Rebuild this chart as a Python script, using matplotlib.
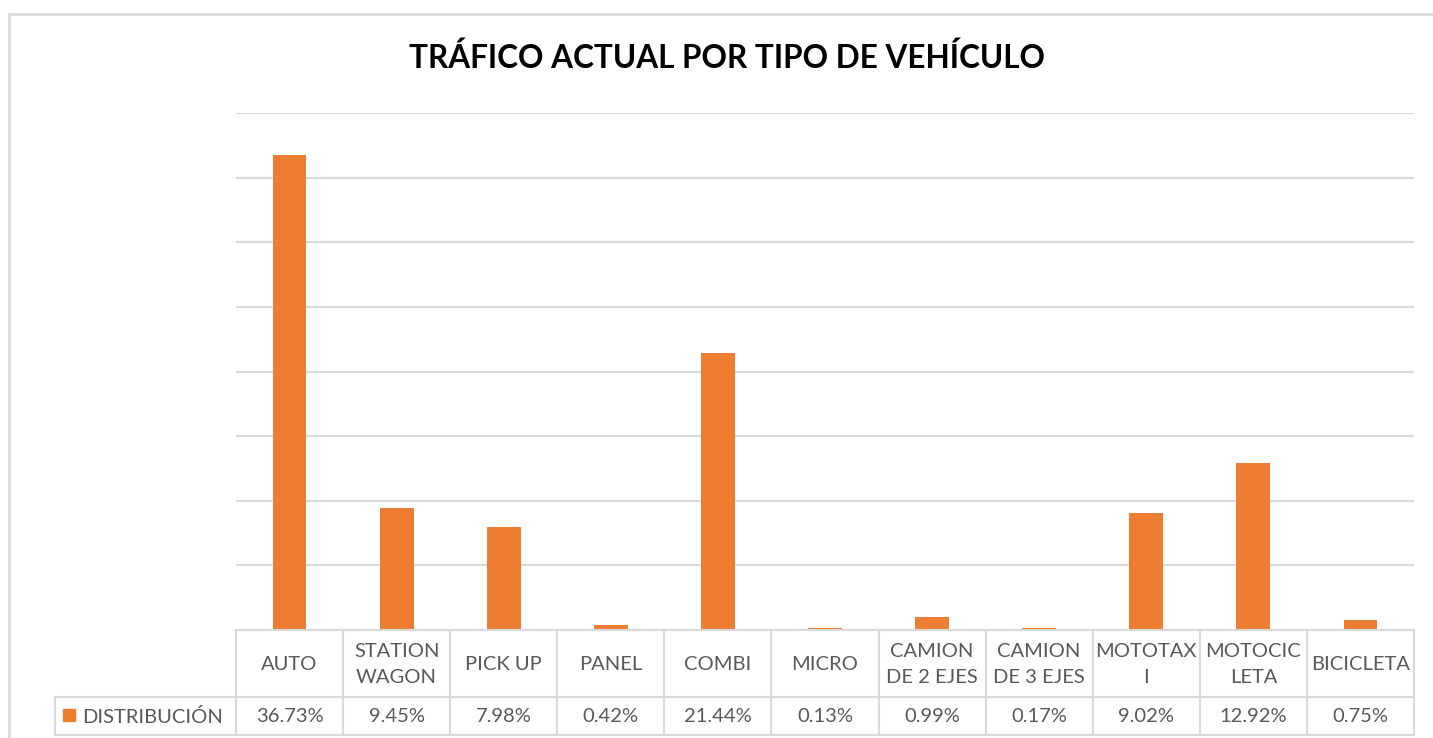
import matplotlib
matplotlib.use("Agg")
import matplotlib.pyplot as plt
from matplotlib.lines import Line2D
from matplotlib.patches import Rectangle

# datos de tráfico por tipo de vehículo (%)
categorias = ["AUTO", "STATION\nWAGON", "PICK UP", "PANEL", "COMBI", "MICRO",
              "CAMION\nDE 2 EJES", "CAMION\nDE 3 EJES", "MOTOTAX\nI", "MOTOCIC\nLETA",
              "BICICLETA"]
distribucion = [36.73, 9.45, 7.98, 0.42, 21.44, 0.13, 0.99, 0.17, 9.02, 12.92, 0.75]
serie = "DISTRIBUCIÓN"
titulo = "TRÁFICO ACTUAL POR TIPO DE VEHÍCULO"

naranja = "#ED7D31"
gris = "#D9D9D9"
texto = "#595959"

plt.rcParams['font.family'] = ['Lato', 'DejaVu Sans']

W, H = 1433, 738
fig = plt.figure(figsize=(W / 100, H / 100), dpi=100)

# area del grafico en pixeles
x0, x1 = 236, 1414
y_base, y_top = 630, 113
ax = fig.add_axes([x0 / W, 1 - y_base / H, (x1 - x0) / W, (y_base - y_top) / H])
n = len(categorias)
ax.bar(range(n), distribucion, width=0.315, color=naranja, zorder=3)
ax.set_xlim(-0.5, n - 0.5)
ax.set_ylim(0, 40)
ax.set_yticks(range(0, 41, 5))
ax.yaxis.grid(True, color=gris, linewidth=1.5, zorder=0)
ax.set_xticks([])
ax.tick_params(left=False, labelleft=False)
for s in ax.spines.values():
    s.set_visible(False)

# capa superior en pixeles para la tabla y el borde
ov = fig.add_axes([0, 0, 1, 1], zorder=5)
ov.set_xlim(0, W)
ov.set_ylim(H, 0)
ov.axis("off")
ov.patch.set_alpha(0)

def linea(xs, ys):
    ov.add_line(Line2D(xs, ys, color=gris, linewidth=1.5))

# borde del grafico
ov.add_line(Line2D([9, 9, W + 5], [H + 5, 14, 14], color=gris, linewidth=2))

# tabla de datos
col_w = (x1 - x0) / n
r1, r2, r3 = y_base, 697, 735
linea([x0, x1], [r1, r1])
linea([55, x1], [r2, r2])
linea([55, x1], [r3, r3])
linea([55, 55], [r2, r3])
for i in range(n + 1):
    xc = x0 + i * col_w
    linea([xc, xc], [r1, r3])

for i, (cat, val) in enumerate(zip(categorias, distribucion)):
    xc = x0 + (i + 0.5) * col_w
    ov.text(xc, (r1 + r2) / 2 + 1, cat, ha="center", va="center", fontsize=14.5,
            color=texto, linespacing=1.65)
    ov.text(xc, (r2 + r3) / 2 + 1, f"{val:.2f}%", ha="center", va="center",
            fontsize=14.5, color=texto)

ov.add_patch(Rectangle((63, 709), 12, 12, color=naranja))
ov.text(82, (r2 + r3) / 2 + 1, serie, ha="left", va="center", fontsize=14.5, color=texto)

ov.text(727, 58, titulo, ha="center", va="center", fontsize=22.7,
        fontweight="bold", color="black")

fig.savefig("out.png", dpi=100)
